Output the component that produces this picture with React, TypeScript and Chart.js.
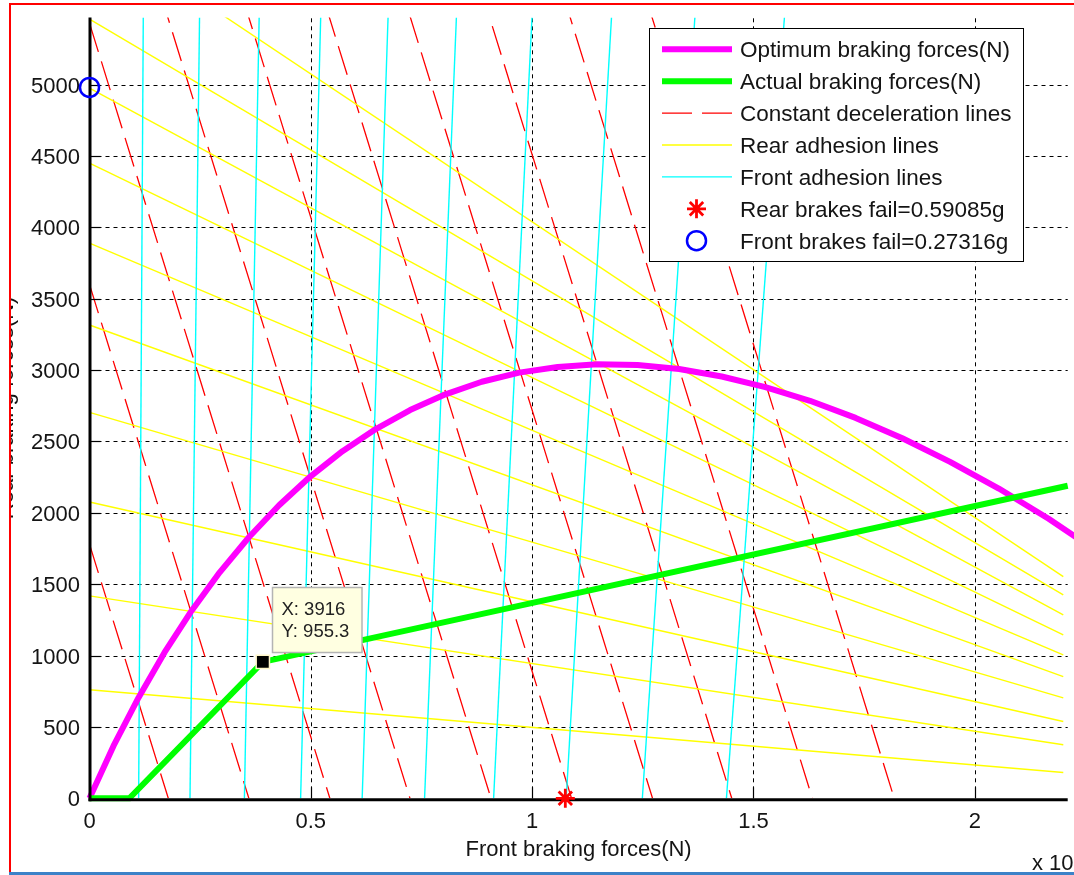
import React, { useEffect, useRef } from 'react';
import { Chart, registerables } from 'chart.js';

Chart.register(...registerables);

// ---------------- data (forces in N) ----------------
const X_MAX = 22100;
const Y_MAX = 5470;

const xTickValues = [0, 5000, 10000, 15000, 20000];
const xTickLabels = ['0', '0.5', '1', '1.5', '2'];
const yTickValues = [0, 500, 1000, 1500, 2000, 2500, 3000, 3500, 4000, 4500, 5000];
const yTickLabels = ['0', '500', '1000', '1500', '2000', '2500', '3000', '3500', '4000', '4500', '5000'];
const xExponentLabel = 'x 10';
const xExponentPower = '4';

// Optimum braking forces (front, rear)
const optimumFront = [0, 542, 1107, 1695, 2307, 2942, 3601, 4283, 4988, 5716, 6468, 7243, 8042, 8863, 9708, 10577, 11469, 12384, 13322, 14284, 15269, 16277, 17309, 18364, 19443, 20544, 21669, 22818];
const optimumRear = [0, 367, 705, 1022, 1314, 1583, 1829, 2053, 2254, 2432, 2587, 2720, 2830, 2918, 2982, 3022, 3040, 3035, 3007, 2955, 2880, 2785, 2665, 2522, 2357, 2170, 1958, 1720];

// Actual braking forces (front, rear)
const actualFront = [0, 900, 3916, 22100];
const actualRear = [0, 0, 955.3, 2190];

// Constant deceleration lines: Ff + Fr = total
const decelTotals = [1780, 3600, 5430, 7240, 9070, 10890, 12720, 14510, 16330, 18180];

// Rear adhesion lines: rear force at Ff = 0 and at Ff = 22000
const rearAdhesionStart = [760, 1418, 2076, 2704, 3316, 3890, 4450, 4975, 5459, 6110];
const rearAdhesionEnd = [181, 375, 538, 704, 853, 1005, 1145, 1285, 1425, 1553];
const rearAdhesionEndFront = 22000;

// Front adhesion lines: front force at Fr = 0 and at Fr = 5470
const frontAdhesionBottom = [1110, 2270, 3500, 4770, 6160, 7570, 9130, 10770, 12490, 14390];
const frontAdhesionTop = [1215, 2486, 3833, 5223, 6745, 8289, 9997, 11793, 13677, 15700];
const frontAdhesionTopRear = 5470;

// Special points
const rearFailPoint = [10750, 0];
const frontFailPoint = [0, 4980];
const dataTipPoint = [3916, 955.3];

const legendLabels = [
  'Optimum braking forces(N)',
  'Actual braking forces(N)',
  'Constant deceleration lines',
  'Rear adhesion lines',
  'Front adhesion lines',
  'Rear brakes fail=0.59085g',
  'Front brakes fail=0.27316g',
];
const xTitle = 'Front braking forces(N)';
const yTitle = 'Rear braking forces(N)';

// ---------------- styling ----------------
const FONT = '"Liberation Sans", Arial, Helvetica, sans-serif';
const TEXT = '#141414';
const CANVAS_W = 1080;
const CANVAS_H = 875;
const PLOT_LEFT = 89.5;
const PLOT_TOP = 17.5;
const PLOT_BOTTOM = 798.3;
const PLOT_RIGHT = 1078;

const MAGENTA = '#ff00ff';
const GREEN = '#00ff00';
const RED = '#ff0000';
const YELLOW = '#ffff00';
const CYAN = '#00ffff';
const BLUE = '#0000ff';

function toPoints(xs: number[], ys: number[]) {
  return xs.map((x, i) => ({ x, y: ys[i] }));
}

function drawStar(ctx: CanvasRenderingContext2D, x: number, y: number, r: number) {
  ctx.beginPath();
  for (let k = 0; k < 4; k++) {
    const a = (k * Math.PI) / 4;
    ctx.moveTo(x - r * Math.cos(a), y - r * Math.sin(a));
    ctx.lineTo(x + r * Math.cos(a), y + r * Math.sin(a));
  }
  ctx.stroke();
}

const overlayPlugin = {
  id: 'matlabOverlay',
  beforeDatasetsDraw(chart: any) {
    const { ctx, chartArea: a } = chart;
    const xs = chart.scales.x;
    const ys = chart.scales.y;
    ctx.save();
    // grid
    ctx.strokeStyle = '#000';
    ctx.lineWidth = 1;
    ctx.setLineDash([4, 4]);
    xTickValues.forEach((v) => {
      if (v === 0) return;
      const px = Math.round(xs.getPixelForValue(v)) + 0.5;
      ctx.beginPath();
      ctx.moveTo(px, a.bottom);
      ctx.lineTo(px, a.top);
      ctx.stroke();
    });
    yTickValues.forEach((v) => {
      if (v === 0) return;
      const py = Math.round(ys.getPixelForValue(v)) + 0.5;
      ctx.beginPath();
      ctx.moveTo(a.left, py);
      ctx.lineTo(a.right, py);
      ctx.stroke();
    });
    ctx.setLineDash([]);
    // tick labels
    ctx.fillStyle = TEXT;
    ctx.font = `22px ${FONT}`;
    ctx.textBaseline = 'alphabetic';
    ctx.textAlign = 'right';
    yTickValues.forEach((v, i) => {
      ctx.fillText(yTickLabels[i], a.left - 9.5, ys.getPixelForValue(v) + 8);
    });
    ctx.textAlign = 'center';
    xTickValues.forEach((v, i) => {
      ctx.fillText(xTickLabels[i], xs.getPixelForValue(v), 828);
    });
    // x title
    ctx.fillText(xTitle, (a.left + a.right) / 2, 856);
    // exponent
    ctx.textAlign = 'left';
    ctx.fillText(xExponentLabel, 1032, 870);
    const w = ctx.measureText(xExponentLabel).width;
    ctx.font = `15px ${FONT}`;
    ctx.fillText(xExponentPower, 1032 + w + 1, 861);
    // y title (clipped by the figure frame)
    ctx.save();
    ctx.beginPath();
    ctx.rect(11, 0, 60, CANVAS_H);
    ctx.clip();
    ctx.translate(13, (a.top + a.bottom) / 2);
    ctx.rotate(-Math.PI / 2);
    ctx.font = `22px ${FONT}`;
    ctx.textAlign = 'center';
    ctx.fillText(yTitle, 0, 0);
    ctx.restore();
    ctx.restore();
  },
  beforeDatasetDraw(chart: any, args: any) {
    const ds = chart.data.datasets[args.index];
    if (!ds || !ds.isMarkers) return;
    const { ctx, chartArea: a } = chart;
    const xs = chart.scales.x;
    const ys = chart.scales.y;
    ctx.save();
    ctx.strokeStyle = '#000';
    ctx.setLineDash([]);
    // inward ticks
    ctx.lineWidth = 1.2;
    yTickValues.forEach((v) => {
      if (v === 0) return;
      const py = Math.round(ys.getPixelForValue(v)) + 0.5;
      ctx.beginPath();
      ctx.moveTo(a.left, py);
      ctx.lineTo(a.left + 11, py);
      ctx.stroke();
    });
    xTickValues.forEach((v) => {
      if (v === 0) return;
      const px = Math.round(xs.getPixelForValue(v)) + 0.5;
      ctx.beginPath();
      ctx.moveTo(px, a.bottom);
      ctx.lineTo(px, a.bottom - 11);
      ctx.stroke();
    });
    // axis lines
    ctx.lineWidth = 3;
    ctx.beginPath();
    ctx.moveTo(a.left + 0.5, a.top);
    ctx.lineTo(a.left + 0.5, a.bottom + 3);
    ctx.stroke();
    ctx.beginPath();
    ctx.moveTo(a.left - 1, a.bottom + 1.5);
    ctx.lineTo(a.right, a.bottom + 1.5);
    ctx.stroke();
    ctx.restore();
  },
  afterDatasetsDraw(chart: any) {
    const { ctx } = chart;
    const xs = chart.scales.x;
    const ys = chart.scales.y;
    ctx.save();
    // data tip
    const px = xs.getPixelForValue(dataTipPoint[0]);
    const py = ys.getPixelForValue(dataTipPoint[1]);
    const bx = Math.round(px + 9) + 0.5;
    const by = Math.round(py - 74.5) + 0.5;
    ctx.fillStyle = '#ffffe1';
    ctx.fillRect(bx, by, 89.5, 65);
    ctx.strokeStyle = '#b4b4b4';
    ctx.lineWidth = 1.5;
    ctx.strokeRect(bx, by, 89.5, 65);
    ctx.fillStyle = '#222';
    ctx.font = `18.5px ${FONT}`;
    ctx.textAlign = 'left';
    ctx.textBaseline = 'alphabetic';
    ctx.fillText(`X: ${dataTipPoint[0]}`, bx + 9, by + 27.7);
    ctx.fillText(`Y: ${dataTipPoint[1]}`, bx + 9, by + 49);

    // legend
    const L = 649.5, T = 28.5, W = 374, H = 233;
    ctx.fillStyle = '#fff';
    ctx.fillRect(L, T, W, H);
    ctx.strokeStyle = '#000';
    ctx.lineWidth = 1;
    ctx.strokeRect(L, T, W, H);
    const lineColors = [MAGENTA, GREEN, RED, YELLOW, CYAN];
    const lineWidths = [6, 6, 1.3, 1.4, 1.4];
    legendLabels.forEach((label, i) => {
      const cy = 49.3 + i * 31.9;
      if (i < 5) {
        ctx.strokeStyle = lineColors[i];
        ctx.lineWidth = lineWidths[i];
        ctx.setLineDash(i === 2 ? [30, 10] : []);
        ctx.beginPath();
        ctx.moveTo(662, cy);
        ctx.lineTo(732, cy);
        ctx.stroke();
        ctx.setLineDash([]);
      } else if (i === 5) {
        ctx.strokeStyle = RED;
        ctx.lineWidth = 2.8;
        drawStar(ctx, 696.5, cy, 9.5);
      } else {
        ctx.strokeStyle = BLUE;
        ctx.lineWidth = 2.5;
        ctx.beginPath();
        ctx.arc(696.5, cy, 9.5, 0, Math.PI * 2);
        ctx.stroke();
      }
      ctx.fillStyle = TEXT;
      ctx.font = `22.5px ${FONT}`;
      ctx.fillText(label, 740, cy + 8);
    });
    ctx.restore();
  },
};

export default function App() {
  const ref = useRef<HTMLCanvasElement>(null);

  useEffect(() => {
    const canvas = ref.current;
    if (!canvas) return;
    const thin = { showLine: true, pointRadius: 0, pointHoverRadius: 0, fill: false, tension: 0 };
    const datasets: any[] = [];

    decelTotals.forEach((c) => {
      datasets.push({
        ...thin,
        data: [{ x: 0, y: c }, { x: c, y: 0 }],
        borderColor: RED,
        borderWidth: 1.3,
        borderDash: [30, 10],
        order: 5,
      });
    });
    rearAdhesionStart.forEach((s, i) => {
      datasets.push({
        ...thin,
        data: [{ x: 0, y: s }, { x: rearAdhesionEndFront, y: rearAdhesionEnd[i] }],
        borderColor: YELLOW,
        borderWidth: 1.4,
        order: 4,
      });
    });
    frontAdhesionBottom.forEach((b, i) => {
      datasets.push({
        ...thin,
        data: [{ x: b, y: 0 }, { x: frontAdhesionTop[i], y: frontAdhesionTopRear }],
        borderColor: CYAN,
        borderWidth: 1.4,
        order: 3,
      });
    });
    datasets.push({
      ...thin,
      data: toPoints(actualFront, actualRear),
      borderColor: GREEN,
      borderWidth: 6,
      clip: false,
      order: 2,
    });
    datasets.push({
      ...thin,
      data: toPoints(optimumFront, optimumRear),
      borderColor: MAGENTA,
      borderWidth: 6,
      borderJoinStyle: 'round',
      clip: false,
      order: 2,
    });
    datasets.push({
      isMarkers: true,
      showLine: false,
      data: [
        { x: rearFailPoint[0], y: rearFailPoint[1] },
        { x: frontFailPoint[0], y: frontFailPoint[1] },
        { x: dataTipPoint[0], y: dataTipPoint[1] },
      ],
      pointStyle: ['star', 'circle', 'rect'],
      pointRadius: [9.5, 9.5, 9.4],
      pointHoverRadius: [9.5, 9.5, 9.4],
      pointBorderWidth: [2.8, 2.5, 1.5],
      pointBorderColor: [RED, BLUE, '#fff6c8'],
      pointBackgroundColor: [RED, 'rgba(0,0,0,0)', '#000000'],
      clip: false,
      order: 0,
    });

    const chart = new Chart(canvas, {
      type: 'scatter',
      data: { datasets },
      options: {
        responsive: false,
        animation: false,
        events: [],
        layout: { padding: { left: 0, top: PLOT_TOP, right: CANVAS_W - PLOT_RIGHT, bottom: 0 } },
        plugins: { legend: { display: false }, tooltip: { enabled: false } },
        scales: {
          x: {
            type: 'linear',
            position: 'bottom',
            min: 0,
            max: X_MAX,
            grid: { display: false },
            border: { display: false },
            ticks: { display: false },
            afterBuildTicks: (s: any) => {
              s.ticks = xTickValues.map((v) => ({ value: v }));
            },
            afterFit: (s: any) => {
              s.height = CANVAS_H - PLOT_BOTTOM;
            },
          },
          y: {
            type: 'linear',
            position: 'left',
            min: 0,
            max: Y_MAX,
            grid: { display: false },
            border: { display: false },
            ticks: { display: false },
            afterBuildTicks: (s: any) => {
              s.ticks = yTickValues.map((v) => ({ value: v }));
            },
            afterFit: (s: any) => {
              s.width = PLOT_LEFT;
            },
          },
        },
      } as any,
      plugins: [overlayPlugin as any],
    });
    return () => chart.destroy();
  }, []);

  return (
    <div
      style={{
        position: 'fixed',
        left: 0,
        top: 0,
        width: 1074,
        height: 875,
        overflow: 'hidden',
        background: '#ffffff',
      }}
    >
      <canvas ref={ref} width={CANVAS_W} height={CANVAS_H} style={{ display: 'block', width: CANVAS_W, height: CANVAS_H }} />
      <div
        style={{
          position: 'absolute',
          left: 9,
          top: 3,
          width: 1100,
          height: 880,
          borderLeft: '2px solid #ff0000',
          borderTop: '2px solid #ff0000',
          pointerEvents: 'none',
        }}
      />
      <div
        style={{
          position: 'absolute',
          left: 9,
          top: 872,
          width: 1100,
          height: 3,
          background: '#3c82c8',
        }}
      />
    </div>
  );
}
